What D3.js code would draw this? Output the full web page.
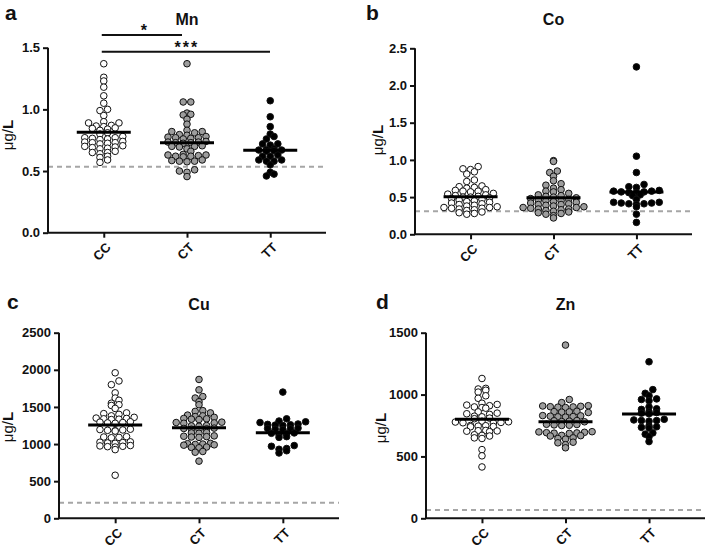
<!DOCTYPE html>
<html><head><meta charset="utf-8">
<script src="https://cdn.jsdelivr.net/npm/d3@7"></script>
<style>body{margin:0;background:#fff}svg{display:block}</style>
</head><body>
<svg id="chart" width="709" height="552"></svg>
<script>
const categories = ["CC", "CT", "TT"];

const mnCC = [1.37,1.26,1.23,1.18,1.11,1.05,1.00,0.99,0.95,0.90,0.89,0.89,0.87,0.865,0.86,0.85,0.845,0.84,0.83,0.81,0.80,0.78,0.77,0.77,0.765,0.76,0.755,0.74,0.735,0.73,0.73,0.725,0.72,0.705,0.70,0.695,0.69,0.685,0.68,0.66,0.65,0.65,0.64,0.62,0.61,0.59,0.57];
const mnCT = [1.37,1.06,1.06,0.97,0.96,0.955,0.92,0.88,0.83,0.82,0.82,0.81,0.795,0.79,0.78,0.775,0.77,0.77,0.765,0.76,0.74,0.735,0.735,0.73,0.73,0.725,0.705,0.70,0.70,0.695,0.68,0.66,0.635,0.63,0.63,0.625,0.62,0.62,0.615,0.59,0.585,0.58,0.58,0.575,0.51,0.50,0.49,0.455];
const mnTT = [1.07,0.94,0.86,0.80,0.78,0.76,0.72,0.72,0.71,0.68,0.675,0.67,0.67,0.665,0.66,0.63,0.62,0.62,0.59,0.59,0.58,0.58,0.55,0.49,0.475,0.46];

const coCC = [0.91,0.88,0.87,0.84,0.81,0.73,0.71,0.65,0.64,0.63,0.62,0.60,0.59,0.58,0.58,0.57,0.55,0.54,0.53,0.52,0.51,0.50,0.50,0.49,0.48,0.47,0.46,0.45,0.44,0.43,0.42,0.41,0.40,0.39,0.38,0.37,0.36,0.36,0.35,0.35,0.34,0.33,0.32,0.30,0.29,0.28,0.27];
const coCT = [0.99,0.98,0.85,0.83,0.78,0.72,0.68,0.66,0.62,0.60,0.58,0.57,0.55,0.53,0.52,0.51,0.50,0.49,0.48,0.47,0.46,0.45,0.45,0.44,0.43,0.42,0.41,0.40,0.40,0.39,0.38,0.37,0.36,0.36,0.35,0.34,0.34,0.33,0.32,0.31,0.30,0.29,0.28,0.27,0.25,0.22];
const coTT = [2.25,1.05,0.83,0.67,0.64,0.63,0.59,0.58,0.58,0.57,0.57,0.56,0.56,0.53,0.52,0.47,0.43,0.43,0.42,0.42,0.41,0.41,0.40,0.37,0.27,0.16];

const cuCC = [1960,1850,1800,1690,1620,1590,1550,1530,1520,1480,1420,1410,1400,1380,1360,1350,1345,1340,1335,1330,1300,1295,1290,1285,1280,1200,1195,1190,1185,1180,1175,1100,1095,1090,1085,1030,1025,1020,1015,1010,980,975,970,965,960,925,580];
const cuCT = [1870,1730,1640,1620,1570,1530,1450,1440,1420,1390,1380,1370,1360,1345,1340,1335,1330,1295,1290,1285,1280,1250,1245,1240,1215,1210,1205,1200,1195,1155,1150,1145,1110,1105,1100,1095,1090,1010,1005,1000,995,990,985,960,955,950,900,890,770];
const cuTT = [1700,1340,1310,1300,1290,1270,1265,1260,1255,1250,1215,1210,1205,1200,1195,1150,1145,1140,1130,1100,1090,980,970,940,930,910,880];

const znCC = [1130,1050,1045,1035,1020,990,970,930,920,915,910,900,895,890,860,850,845,840,825,820,810,805,785,780,778,775,772,770,750,748,745,742,740,710,708,706,704,700,675,670,665,650,645,555,505,415];
const znCT = [1400,960,935,910,908,905,902,900,898,895,865,862,860,858,855,830,828,825,822,820,818,790,788,785,782,780,760,758,755,752,750,700,698,695,692,690,688,686,670,668,665,650,645,640,615,610,595,570];
const znTT = [1265,1040,1010,990,965,960,950,900,885,880,860,855,850,845,800,795,790,790,785,745,740,735,730,690,680,660,620];

const meanMn = [0.814, 0.73, 0.668];
const meanCo = [0.505, 0.49, 0.57];
const meanCu = [1256, 1220, 1152];
const meanZn = [800, 780, 842];

const limits = [0.535, 0.31, 210, 67];
const titles = ["Mn", "Co", "Cu", "Zn"];
const letters = ["a", "b", "c", "d"];
const yMax = [1.5, 2.5, 2500, 1500];
const yTickStep = [0.5, 0.5, 500, 500];
const yTickFormat = [".1f", ".1f", "d", "d"];

const panels = [
  {left:48, right:326, top:47.7, bottom:232.7, series:[mnCC,mnCT,mnTT], means:meanMn, letterX:5, letterY:20, ylab:[9,135], sig:true},
  {left:415, right:692, top:48.3, bottom:234.3, series:[coCC,coCT,coTT], means:meanCo, letterX:366, letterY:20, ylab:[379,140]},
  {left:59, right:339, top:332.7, bottom:518.3, series:[cuCC,cuCT,cuTT], means:meanCu, letterX:7, letterY:309, ylab:[9,427]},
  {left:426, right:705, top:332.7, bottom:518.3, series:[znCC,znCT,znTT], means:meanZn, letterX:376, letterY:309, ylab:[382,428]}
];

const fills = ["#ffffff", "#9d9d9d", "#000000"];
const svg = d3.select("#chart");
const R = 3.3, DX = 7.6, H = 4.6;
const FONT = "Liberation Sans, Arial, sans-serif";

// GraphPad-like row layout: bin by pixel height, spread each row symmetrically
function swarm(vals, y, bottom) {
  const pts = vals.map(v => ({v, y: y(v)}));
  const bins = d3.group(pts, p => Math.floor((bottom - p.y) / H));
  for (const [, row] of bins) {
    row.sort((a, b) => a.v - b.v);
    const n = row.length;
    const offs = d3.range(n).map(i => (i - (n - 1) / 2) * DX)
      .sort((a, b) => Math.abs(a) - Math.abs(b) || a - b);
    row.forEach((p, i) => { p.x = offs[i]; });
  }
  return pts;
}

panels.forEach((P, k) => {
  const g = svg.append("g");
  const x = d3.scalePoint().domain(categories).range([P.left, P.right]).padding(0.67);
  const y = d3.scaleLinear().domain([0, yMax[k]]).range([P.bottom, P.top]);
  const ticks = d3.range(0, yMax[k] + yTickStep[k] / 2, yTickStep[k]);

  g.append("line").attr("x1", P.left).attr("x2", P.right)
    .attr("y1", y(limits[k])).attr("y2", y(limits[k]))
    .attr("stroke", "#a6a6a6").attr("stroke-width", 2).attr("stroke-dasharray", "5,4");

  const ya = g.append("g").attr("transform", `translate(${P.left},0)`)
    .call(d3.axisLeft(y).tickValues(ticks).tickFormat(d3.format(yTickFormat[k])).tickSize(5).tickSizeOuter(0));
  const xa = g.append("g").attr("transform", `translate(0,${P.bottom})`)
    .call(d3.axisBottom(x).tickSize(5).tickSizeOuter(0));
  [ya, xa].forEach(a => {
    a.select(".domain").attr("stroke", "#111").attr("stroke-width", 2);
    a.selectAll(".tick line").attr("stroke", "#111").attr("stroke-width", 2);
    a.selectAll("text").attr("font-family", FONT)
      .attr("font-weight", "bold").attr("font-size", 13).attr("fill", "#111");
  });
  xa.select(".domain").attr("d", `M${P.left},0H${P.right}`);
  ya.select(".domain").attr("d", `M0,${P.bottom}V${P.top}`);
  ya.selectAll(".tick text").attr("x", -8);
  xa.selectAll(".tick text").attr("text-anchor", "end").attr("dy", null).attr("y", 0)
    .attr("transform", "translate(5,13) rotate(-45)").attr("dominant-baseline", "middle");

  P.series.forEach((vals, ci) => {
    const pts = swarm(vals, y, P.bottom);
    g.append("g").selectAll("circle").data(pts).join("circle")
      .attr("cx", d => x(categories[ci]) + d.x).attr("cy", d => d.y).attr("r", R)
      .attr("fill", fills[ci]).attr("stroke", "#111").attr("stroke-width", 1);
    g.append("line").attr("x1", x(categories[ci]) - 27).attr("x2", x(categories[ci]) + 27)
      .attr("y1", y(P.means[ci])).attr("y2", y(P.means[ci]))
      .attr("stroke", "#000").attr("stroke-width", 3);
  });

  g.append("text").attr("x", x("CT")).attr("y", P.top - 23).attr("text-anchor", "middle")
    .attr("font-family", FONT).attr("font-weight", "bold")
    .attr("font-size", 16).attr("fill", "#111").text(titles[k]);
  g.append("text").attr("x", P.letterX).attr("y", P.letterY)
    .attr("font-family", FONT).attr("font-weight", "bold")
    .attr("font-size", 21).attr("fill", "#111").text(letters[k]);
  const yl = g.append("text").attr("transform", `translate(${P.ylab[0]},${P.ylab[1]}) rotate(-90)`)
    .attr("text-anchor", "middle").attr("dominant-baseline", "middle")
    .attr("font-family", FONT).attr("font-size", 15).attr("fill", "#111");
  yl.append("tspan").text("μg/");
  yl.append("tspan").attr("font-weight", "bold").text("L");

  if (P.sig) {
    const bars = [[categories[0], 35, "*", 182], [categories[0], 51.7, "***", 270]];
    bars.forEach(b => {
      const x1 = x(b[0]) - 2, x2 = b[3];
      g.append("line").attr("x1", x1).attr("x2", x2).attr("y1", b[1]).attr("y2", b[1])
        .attr("stroke", "#111").attr("stroke-width", 2);
      g.append("text").attr("x", (x1 + x2) / 2 + (b[2] === "*" ? 2 : 1)).attr("y", b[1] + 1).attr("text-anchor", "middle")
        .attr("font-family", FONT).attr("font-weight", "bold")
        .attr("font-size", 16).attr("fill", "#111").attr("letter-spacing", b[2] === "*" ? 0 : 2).text(b[2]);
    });
  }
});
</script>
</body></html>
